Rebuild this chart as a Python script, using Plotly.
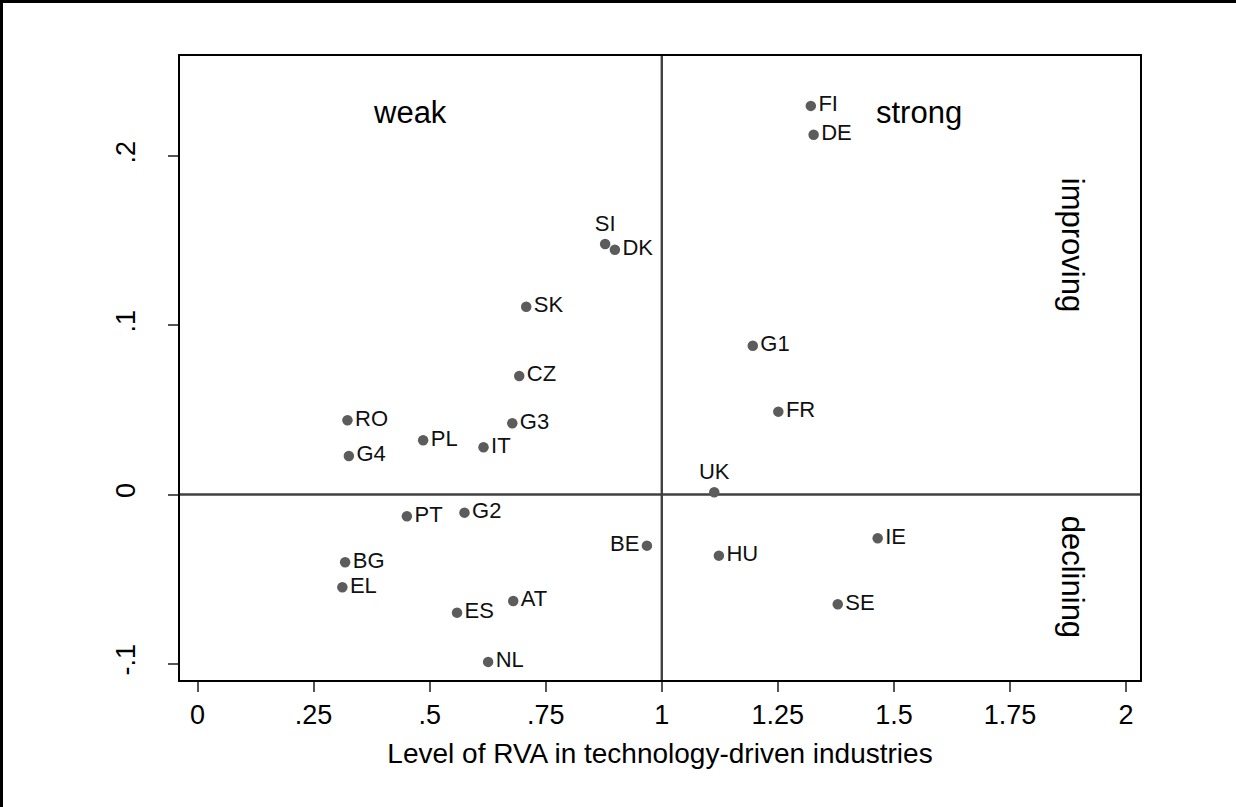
import plotly.graph_objects as go

countries = ["FI", "DE", "SI", "DK", "SK", "CZ", "G1", "FR", "UK", "RO", "G4", "PL", "IT", "G3",
             "PT", "G2", "BG", "EL", "ES", "AT", "NL", "BE", "HU", "SE", "IE"]
rva_level = [1.321, 1.327, 0.878, 0.899, 0.708, 0.693, 1.196, 1.251, 1.113, 0.323, 0.326, 0.486, 0.616, 0.678,
             0.451, 0.575, 0.318, 0.312, 0.559, 0.680, 0.626, 0.968, 1.123, 1.379, 1.465]
rva_change = [0.2297, 0.2127, 0.1481, 0.1447, 0.1110, 0.0701, 0.0880, 0.0490, 0.0014, 0.0439, 0.0228, 0.0321, 0.0280, 0.0421,
              -0.0128, -0.0107, -0.0400, -0.0548, -0.0698, -0.0629, -0.0989, -0.0302, -0.0361, -0.0648, -0.0258]
label_pos = ["middle right"] * len(countries)
label_pos[countries.index("SI")] = "top center"
label_pos[countries.index("UK")] = "top center"
label_pos[countries.index("BE")] = "middle left"

x_ticks = [0, 0.25, 0.5, 0.75, 1, 1.25, 1.5, 1.75, 2]
x_tick_labels = ["0", ".25", ".5", ".75", "1", "1.25", "1.5", "1.75", "2"]
y_ticks = [-0.1, 0, 0.1, 0.2]
y_tick_labels = ["-.1", "0", ".1", ".2"]
x_ref = 1
y_ref = 0

FONT = "Liberation Sans, Arial, Helvetica, sans-serif"

fig = go.Figure()
fig.add_trace(go.Scatter(
    x=rva_level, y=rva_change, mode="markers+text", text=countries,
    textposition=label_pos,
    textfont=dict(family=FONT, size=22, color="#111111"),
    marker=dict(size=10.5, color="#5c5c5c"),
    showlegend=False, cliponaxis=False,
))

fig.add_shape(type="line", x0=x_ref, x1=x_ref, xref="x", y0=0, y1=1, yref="paper",
              line=dict(color="#404040", width=2.4), layer="below")
fig.add_shape(type="line", y0=y_ref, y1=y_ref, yref="y", x0=0, x1=1, xref="paper",
              line=dict(color="#404040", width=2.4), layer="below")

# outer graph frame (partly outside the window)
fig.add_shape(type="rect", xref="paper", yref="paper",
              x0=(1.5 - 180) / 960, x1=1.3, y0=-0.4, y1=(680 - 1.5) / 624,
              line=dict(color="black", width=3), fillcolor="rgba(0,0,0,0)")

big = dict(family=FONT, size=31, color="black")
fig.add_annotation(x=0.4577, y=0.2261, text="weak", showarrow=False, font=big)
fig.add_annotation(x=1.554, y=0.2261, text="strong", showarrow=False, font=big)
fig.add_annotation(x=1.884, y=0.1475, text="improving", showarrow=False, font=big, textangle=90)
fig.add_annotation(x=1.884, y=-0.0487, text="declining", showarrow=False, font=big, textangle=90)

fig.update_xaxes(
    range=[-0.0377, 2.030], tickvals=x_ticks, ticktext=x_tick_labels,
    ticks="outside", ticklen=10, tickwidth=2, tickcolor="#555555",
    showgrid=False, zeroline=False, showline=True, linecolor="black", linewidth=2, mirror=True,
    tickfont=dict(family=FONT, size=27, color="black"),
    title=dict(text="Level of RVA in technology-driven industries",
               font=dict(family=FONT, size=28, color="black"), standoff=14),
)
fig.update_yaxes(
    range=[-0.1096, 0.2592], tickvals=y_ticks, ticktext=y_tick_labels, tickangle=-90,
    ticks="outside", ticklen=10, tickwidth=2, tickcolor="#555555", ticklabelstandoff=22,
    showgrid=False, zeroline=False, showline=True, linecolor="black", linewidth=2, mirror=True,
    tickfont=dict(family=FONT, size=27, color="black"),
)
fig.update_layout(
    width=1236, height=807,
    margin=dict(l=180, r=96, t=56, b=127),
    paper_bgcolor="white", plot_bgcolor="white",
    font=dict(family=FONT),
)
fig.write_html("out.html")
